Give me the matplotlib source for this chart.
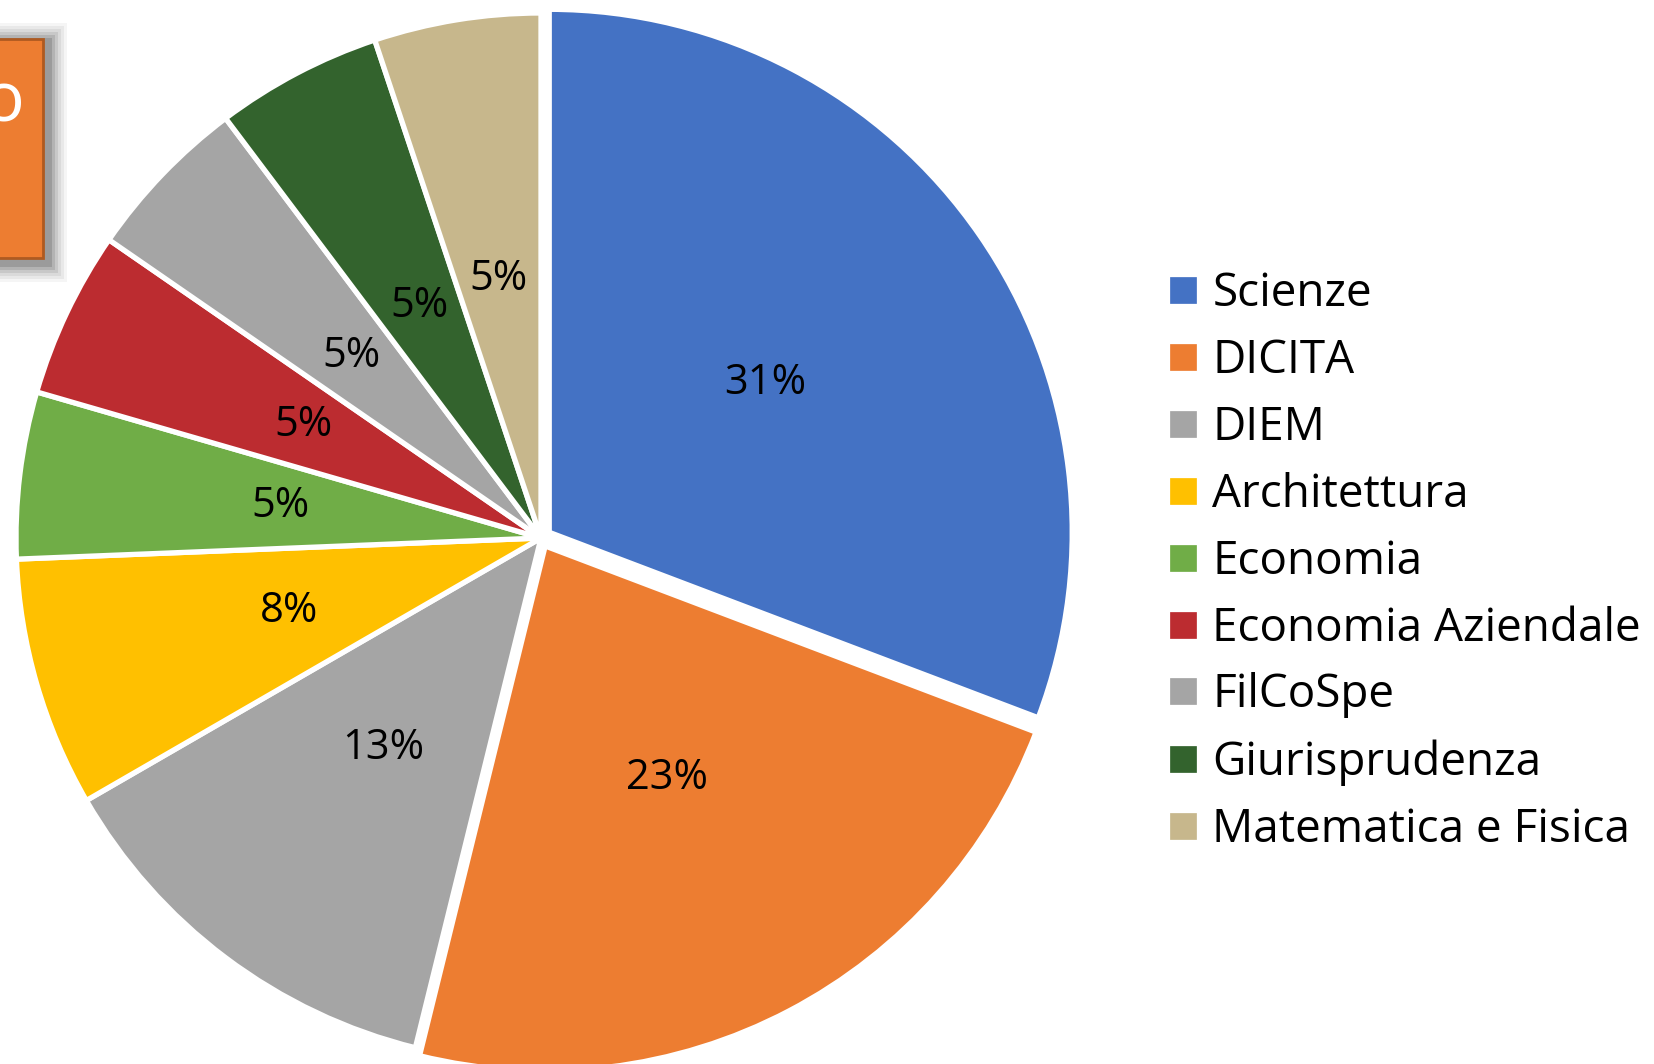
import matplotlib.pyplot as plt
from matplotlib.patches import Rectangle

# data
faculties = ['Scienze', 'DICITA', 'DIEM', 'Architettura', 'Economia',
             'Economia Aziendale', 'FilCoSpe', 'Giurisprudenza', 'Matematica e Fisica']
counts = [12, 9, 5, 3, 2, 2, 2, 2, 2]
colors = ['#4472C4', '#ED7D31', '#A5A5A5', '#FFC000', '#70AD47',
          '#BC2C30', '#A5A5A5', '#33632D', '#C7B78C']
explode = [10, 9, 0, 0, 0, 0, 0, 0, 0]  # pie offsets in data units (pixels here)

plt.rcParams['font.family'] = ['Open Sans', 'DejaVu Sans']

W, H = 1654, 1064
fig = plt.figure(figsize=(W / 100, H / 100), dpi=100)
ax = fig.add_axes([0, 0, 1, 1])

wedges, texts, autotexts = ax.pie(
    counts, colors=colors, explode=explode, startangle=90, counterclock=False,
    center=(541, H - 538), radius=525, autopct='%1.0f%%', pctdistance=0.5,
    wedgeprops=dict(edgecolor='white', linewidth=3.8),
    textprops=dict(fontsize=30, color='black'))
# Scienze sits slightly smaller in the original
wedges[0].set_radius(523)

ax.set_xlim(0, W)
ax.set_ylim(0, H)
ax.set_aspect('equal')
ax.axis('off')

# cut-off orange box at top left with soft shadow
for i, a in enumerate([0.04, 0.05, 0.06, 0.08, 0.10, 0.13]):
    g = 20 - i * 3
    ax.add_patch(Rectangle((-10, H - 258 - g - 4), 53 + g + 4, 219 + 2 * g,
                           facecolor='black', alpha=a, edgecolor='none', zorder=3))
ax.add_patch(Rectangle((-10, H - 258), 53, 219, facecolor='#ED7D31',
                       edgecolor='#AE5A21', linewidth=2, zorder=4))
ax.text(24, H - 103, 'o', color='white', fontsize=50, ha='right', va='center', zorder=5)

leg = ax.legend(wedges, faculties, loc='upper left', bbox_to_anchor=(1149 / W, 1 - 253 / H),
                frameon=False, fontsize=33, handlelength=0.7, handleheight=0.7,
                handletextpad=0.28, labelspacing=0.455, borderaxespad=0)

fig.savefig('out.png', dpi=100)
